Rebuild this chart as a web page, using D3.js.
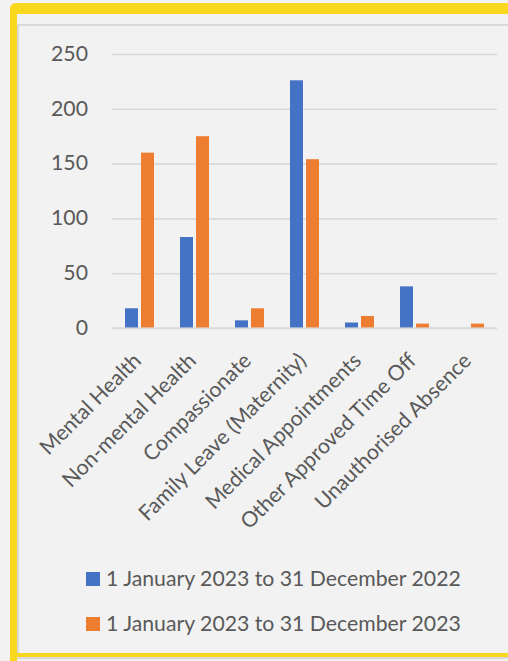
<!DOCTYPE html>
<html>
<head>
<meta charset="utf-8">
<script src="https://cdn.jsdelivr.net/npm/d3@7"></script>
<style>
  html, body { margin: 0; padding: 0; background: #f2f2f2; }
  svg { display: block; }
</style>
</head>
<body>
<svg id="chart" width="508" height="661"></svg>
<script>
const categories = ["Mental Health", "Non-mental Health", "Compassionate", "Family Leave (Maternity)", "Medical Appointments", "Other Approved Time Off", "Unauthorised Absence"];
const series2022 = [18, 83, 7, 226, 5, 38, 0];
const series2023 = [160, 175, 18, 154, 11, 4, 4];
const seriesNames = ["1 January 2023 to 31 December 2022", "1 January 2023 to 31 December 2023"];
const seriesColors = ["#4472c4", "#ed7d31"];
const yTicks = [0, 50, 100, 150, 200, 250];

const svg = d3.select("#chart");
const W = 508, H = 661;
const textColor = "#595959";
const fontFamily = "Lato, 'Noto Sans', sans-serif";

// background
svg.append("rect").attr("width", W).attr("height", H).attr("fill", "#f2f2f2");

// chart gray border
svg.append("rect").attr("x", 18).attr("y", 25).attr("width", W + 20).attr("height", 633)
  .attr("fill", "#f2f2f2").attr("stroke", "#d9d9d9").attr("stroke-width", 2);

// yellow frame
const yellow = "#f9d71c";
svg.append("path")
  .attr("d", `M10,${H} L10,9 Q10,3 16,3 L${W},3 L${W},14 L17,14 L17,${H} Z`)
  .attr("fill", yellow);
svg.append("rect").attr("x", 17).attr("y", 653).attr("width", W).attr("height", 4).attr("fill", yellow);

// fit font size to match Calibri-like width
const probe = svg.append("text").attr("font-family", fontFamily).attr("font-size", 20).text(seriesNames[0]);
const probeW = probe.node().getComputedTextLength();
probe.remove();
const fs = 20 * 355 / probeW;

const plot = { left: 112, right: 497, top: 54, bottom: 328 };

const x0 = d3.scaleBand().domain(categories).range([plot.left, plot.right]).paddingInner(0).paddingOuter(0);
const y = d3.scaleLinear().domain([0, 250]).range([plot.bottom, plot.top]);
const barW = 13, gap = 3;
const x1 = d3.scaleOrdinal().domain([0, 1]).range([-(barW + gap / 2), gap / 2]);

// gridlines
const yAxis = d3.axisLeft(y).tickValues(yTicks).tickSize(-(plot.right - plot.left)).tickFormat(d3.format("d")).tickPadding(24);
const gy = svg.append("g").attr("transform", `translate(${plot.left},0)`).call(yAxis);
gy.select(".domain").remove();
gy.selectAll(".tick line").attr("stroke", "#d9d9d9").attr("stroke-width", 1.6);
gy.selectAll(".tick text").attr("fill", textColor).attr("font-family", fontFamily).attr("font-size", fs)
  .attr("dy", "0.3em");

// bars
const data = categories.map((c, i) => ({ c, vals: [series2022[i], series2023[i]] }));
const groups = svg.append("g").selectAll("g").data(data).join("g")
  .attr("transform", d => `translate(${x0(d.c) + x0.bandwidth() / 2},0)`);
groups.selectAll("rect").data(d => d.vals.map((v, s) => ({ v, s }))).join("rect")
  .attr("x", d => x1(d.s))
  .attr("width", barW)
  .attr("y", d => y(d.v))
  .attr("height", d => y(0) - y(d.v))
  .attr("fill", d => seriesColors[d.s]);

// baseline on top
svg.append("line").attr("x1", plot.left).attr("x2", plot.right).attr("y1", y(0)).attr("y2", y(0))
  .attr("stroke", "#d9d9d9").attr("stroke-width", 1.6).attr("stroke-opacity", 0.8);

// x labels
const xAxis = d3.axisBottom(x0).tickSize(0).tickPadding(0);
const gx = svg.append("g").attr("transform", `translate(0,${plot.bottom})`).call(xAxis);
gx.select(".domain").remove();
gx.selectAll(".tick text")
  .attr("fill", textColor).attr("font-family", fontFamily).attr("font-size", fs)
  .attr("text-anchor", "end").attr("dy", 0).attr("y", 0)
  .attr("transform", "translate(3,34) rotate(-45)");

// legend
const lg = svg.append("g");
seriesNames.forEach((n, i) => {
  const yy = 572 + i * 45;
  lg.append("rect").attr("x", 86).attr("y", yy).attr("width", 14).attr("height", 14).attr("fill", seriesColors[i]);
  lg.append("text").attr("x", 106).attr("y", yy + 13.5).attr("fill", textColor)
    .attr("font-family", fontFamily).attr("font-size", fs).text(n);
});
</script>
</body>
</html>
